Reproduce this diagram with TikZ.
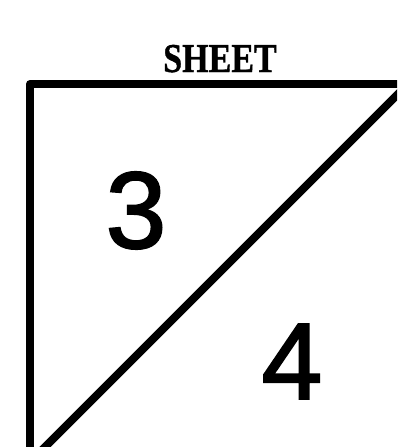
\documentclass[tikz,border=0pt]{standalone}
\usepackage{fontspec}
\setmainfont{Liberation Serif}
\newfontfamily\digitfont[FakeBold=1.8]{Liberation Sans}
\newfontfamily\titlefont[FakeBold=1.0]{Liberation Serif Bold}
\begin{document}
\begin{tikzpicture}[x=1pt,y=-1pt,
  sheetline/.style={line width=8pt,line join=round},
  digit/.style={anchor=base,inner sep=0pt,font=\digitfont\fontsize{109}{110}\selectfont},
  titletext/.style={anchor=base,inner sep=0pt,font=\titlefont\fontsize{41}{41}\selectfont}]
\useasboundingbox (0,0) rectangle (397,447);
\clip (0,0) rectangle (397,447);
\coordinate (tr) at (410,84);
\coordinate (tl) at (30,84);
\coordinate (bl) at (30,460);
\coordinate (dstart) at (32,460);
\coordinate (dend) at (410,82);
\draw[sheetline] (tr) -- (tl) -- (bl);
\draw[sheetline] (dstart) -- (dend);
\node[titletext] (title) at (220,72) {\scalebox{0.83}[1]{SHEET}};
\node[digit] (three) at (136,248) {3};
\node[digit] (four) at (292,399) {4};
\end{tikzpicture}
\end{document}
